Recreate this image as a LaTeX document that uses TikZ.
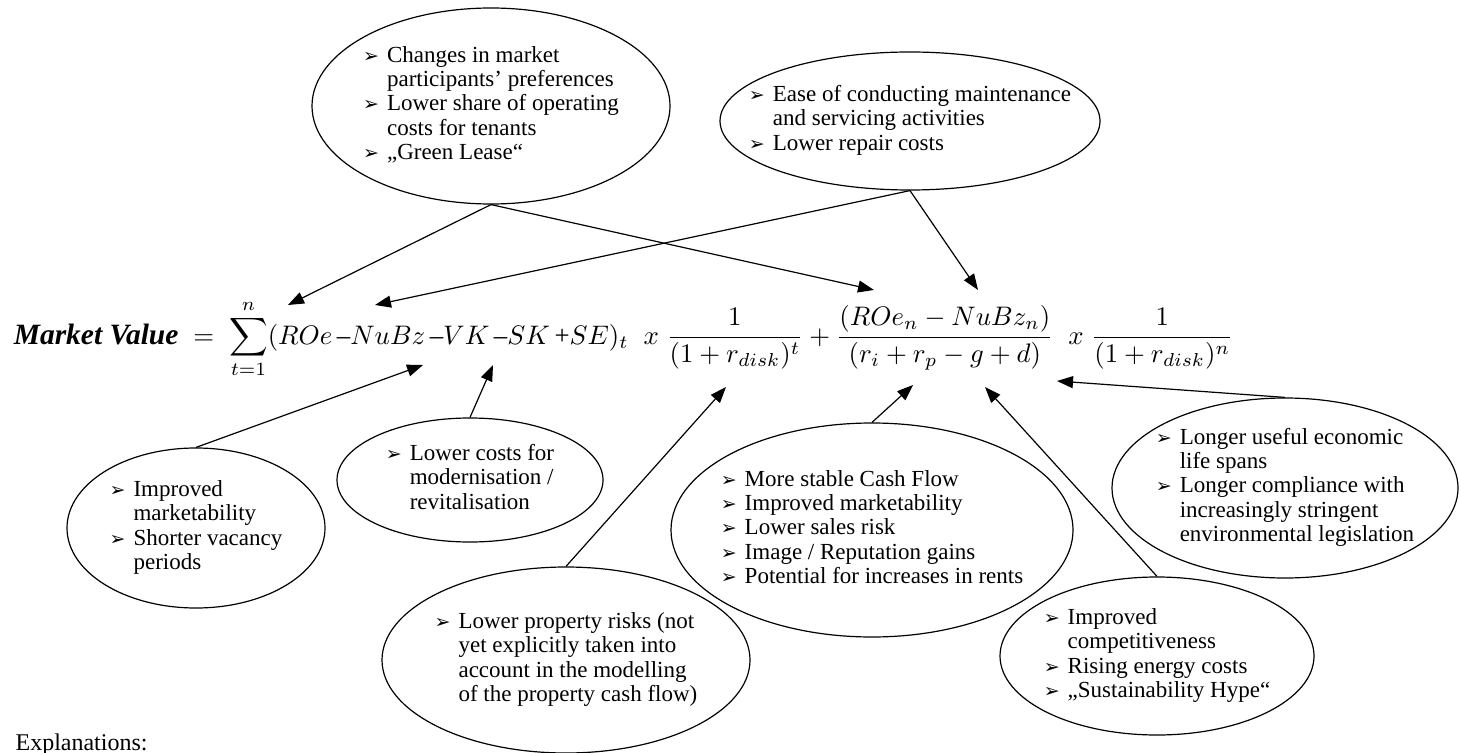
\documentclass[tikz,border=0pt]{standalone}
\usepackage[no-math]{fontspec}
\setmainfont{Liberation Serif}
\newfontfamily\arrowfont{DejaVu Sans}
\usepackage{amsmath}
\usepackage{tikz}
\usetikzlibrary{shapes,arrows.meta}
\tikzset{%
    bubble/.style = {draw, ellipse, inner sep=0pt, line width=0.6pt, font=\fontsize{11.5}{12.2}\selectfont},
    formula/.style = {anchor=base west, inner sep=0pt, scale=1.34, transform shape},
}
\newcommand{\bul}{{\arrowfont\fontsize{9.5}{8}\selectfont ➢}}
\newcommand{\bubbletext}[1]{\makebox[0pt]{\begin{tabular}{@{}l@{\hspace{4pt}}l@{}}#1\end{tabular}}}
\newcommand{\mdash}{\,\text{–}}

\begin{document}
\begin{tikzpicture}[x=0.5pt, y=-0.5pt, line width=0.6pt, >={Triangle[length=8pt,width=6pt]}]
        \useasboundingbox (0,0) rectangle (1459,753);
        \draw
            node at (13,344) [formula] (mv)
            {
                {\fontsize{11}{12}\selectfont\textbf{\textit{Market Value}}}$\;\;=\;\displaystyle\sum_{t=1}^{n}(ROe\mdash NuBz\mdash VK\mdash SK\,\text{+}SE)_t\;\;x\;\frac{1}{(1+r_{disk})^t}+\frac{(ROe_n-NuBz_n)}{(r_i+r_p-g+d)}\;\;x\;\frac{1}{(1+r_{disk})^n}$
            }
            node at (491,106) [bubble, minimum width=179pt, minimum height=98pt] (prefs)
            {
                \bubbletext{\bul & Changes in market\\ & participants’ preferences\\ \bul & Lower share of operating\\ & costs for tenants\\ \bul & „Green Lease“}
            }
            node at (910,121) [bubble, minimum width=190pt, minimum height=69pt] (maint)
            {
                \bubbletext{\bul & Ease of conducting maintenance\\ & and servicing activities\\ \bul & Lower repair costs}
            }
            node at (196,528) [bubble, minimum width=129pt, minimum height=80pt] (vacancy)
            {
                \bubbletext{\bul & Improved\\ & marketability\\ \bul & Shorter vacancy\\ & periods}
            }
            node at (470,480) [bubble, minimum width=133pt, minimum height=62pt] (modern)
            {
                \bubbletext{\bul & Lower costs for\\ & modernisation /\\ & revitalisation}
            }
            node at (566,660) [bubble, minimum width=184pt, minimum height=93pt] (risks)
            {
                \bubbletext{\bul & Lower property risks (not\\ & yet explicitly taken into\\ & account in the modelling\\ & of the property cash flow)}
            }
            node at (872,530) [bubble, minimum width=201pt, minimum height=107pt] (cash)
            {
                \bubbletext{\bul & More stable Cash Flow\\ \bul & Improved marketability\\ \bul & Lower sales risk\\ \bul & Image / Reputation gains\\ \bul & Potential for increases in rents}
            }
            node at (1285,488) [bubble, minimum width=173pt, minimum height=90pt] (life)
            {
                \bubbletext{\bul & Longer useful economic\\ & life spans\\ \bul & Longer compliance with\\ & increasingly stringent\\ & environmental legislation}
            }
            node at (1157,656) [bubble, minimum width=157pt, minimum height=79pt] (compet)
            {
                \bubbletext{\bul & Improved\\ & competitiveness\\ \bul & Rising energy costs\\ \bul & „Sustainability Hype“}
            }
            node at (15,750) [anchor=base west, inner sep=0pt, font=\fontsize{12}{14}\selectfont] (expl)
            {
                Explanations:
            };

        % free ends of the arrows, at the terms of the formula
        \coordinate (sumtip) at (288,305);
        \coordinate (nubztip) at (375,305);
        \coordinate (roentip) at (874,290);
        \coordinate (nubzntip) at (978,290);
        \coordinate (vktip) at (423,365);
        \coordinate (sktip) at (493,365);
        \coordinate (disktip) at (726,387);
        \coordinate (riptip) at (913,385);
        \coordinate (gtip) at (985,387);
        \coordinate (dtip) at (1057,381);

        \draw[->] (prefs.south) -- (sumtip);
        \draw[->] (prefs.south) -- (roentip);
        \draw[->] (maint.south) -- (nubztip);
        \draw[->] (maint.south) -- (nubzntip);
        \draw[->] (vacancy.north) -- (vktip);
        \draw[->] (modern.north) -- (sktip);
        \draw[->] (risks.north) -- (disktip);
        \draw[->] (cash.north) -- (riptip);
        \draw[->] (compet.north) -- (gtip);
        \draw[->] (life.north) -- (dtip);
\end{tikzpicture}
\end{document}
